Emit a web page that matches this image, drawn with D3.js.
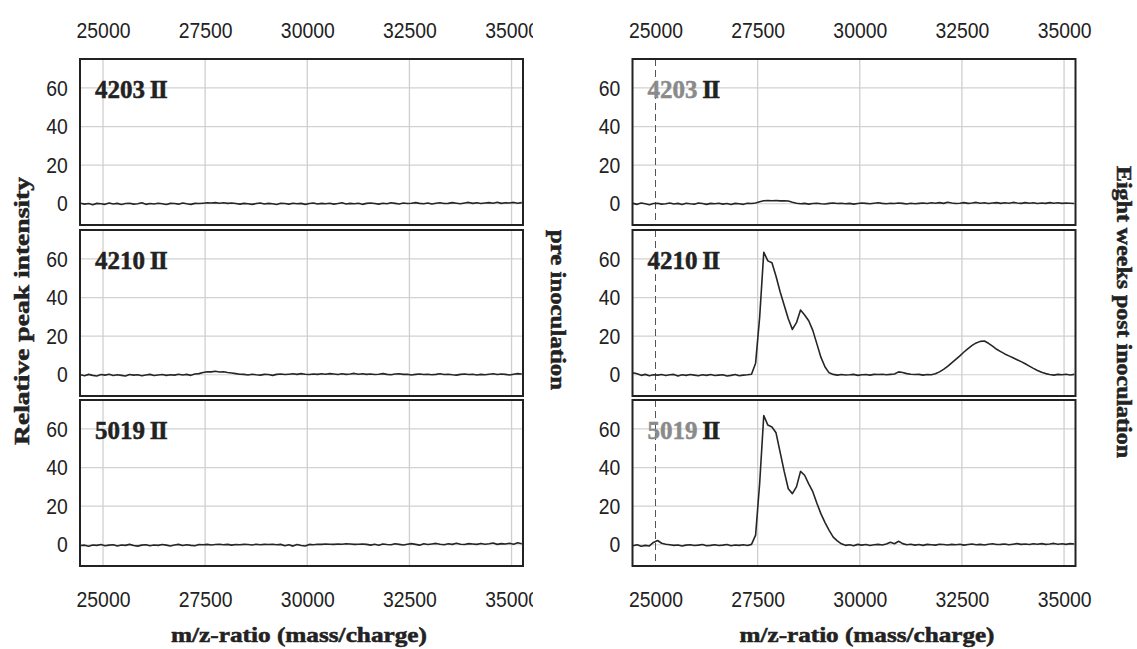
<!DOCTYPE html>
<html><head><meta charset="utf-8">
<script src="https://cdn.jsdelivr.net/npm/d3@7"></script>
<style>body{margin:0;background:#fff}svg{display:block}</style>
</head><body><svg id="c" width="1137" height="649"></svg>
<script>
// ---- data ----
const mz = [24450,24550,24650,24750,24850,24950,25050,25150,25250,25350,
25450,25550,25650,25750,25850,25950,26050,26150,26250,26350,
26450,26550,26650,26750,26850,26950,27050,27150,27250,27350,
27450,27550,27650,27750,27850,27950,28050,28150,28250,28350,
28450,28550,28650,28750,28850,28950,29050,29150,29250,29350,
29450,29550,29650,29750,29850,29950,30050,30150,30250,30350,
30450,30550,30650,30750,30850,30950,31050,31150,31250,31350,
31450,31550,31650,31750,31850,31950,32050,32150,32250,32350,
32450,32550,32650,32750,32850,32950,33050,33150,33250,33350,
33450,33550,33650,33750,33850,33950,34050,34150,34250,34350,
34450,34550,34650,34750,34850,34950,35050,35150,35250];
const xTicks = [25000,27500,30000,32500,35000];
const yTicks = [0,20,40,60];
const sampleIds = ["4203","4210","5019"];
const groupTitles = ["pre inoculation","Eight weeks post inoculation"];
const yTitle = "Relative peak intensity";
const xTitle = "m/z-ratio (mass/charge)";

const pre4203 = [0.3,-0.2,0.1,-0.5,0.2,0.0,-0.3,0.4,-0.1,0.2,
-0.4,0.1,0.3,-0.2,0.0,0.5,-0.3,0.1,-0.1,0.3,
0.0,-0.4,0.2,0.1,-0.2,0.4,0.0,-0.3,0.2,0.1,
0.3,0.5,0.4,0.6,0.3,0.5,0.2,0.4,0.1,-0.2,
0.2,0.0,-0.3,0.1,0.4,-0.1,0.2,0.0,-0.4,0.3,
0.1,-0.2,0.3,0.0,0.2,-0.3,0.1,0.4,-0.1,0.2,
0.0,0.3,-0.2,0.1,0.5,-0.1,0.2,0.0,0.3,-0.3,
0.2,0.4,0.1,-0.2,0.3,0.0,0.5,0.2,-0.1,0.4,
0.1,0.3,0.6,0.2,0.0,0.4,-0.1,0.3,0.5,0.1,
0.2,0.6,0.3,0.0,0.4,0.7,0.2,0.5,0.1,0.4,
0.6,0.3,0.8,0.2,0.5,0.4,0.7,0.3,0.6];
const pre4210 = [0.0,-0.5,0.2,-0.3,-0.6,0.1,-0.2,0.3,-0.4,0.0,
-0.3,-0.6,0.1,-0.2,0.0,-0.5,-0.1,0.2,-0.4,-0.1,
0.1,-0.3,0.0,-0.2,0.3,-0.1,0.2,-0.3,0.4,0.6,
1.2,1.6,1.5,1.8,1.4,1.6,1.2,0.9,0.6,0.3,
0.2,-0.1,0.3,0.0,-0.2,0.2,0.1,-0.3,0.2,0.4,
0.1,0.3,0.5,0.2,0.6,0.3,0.1,0.4,0.2,0.5,
0.3,0.6,0.4,0.1,0.5,0.2,0.4,0.7,0.3,0.5,
0.2,0.4,0.1,0.3,0.6,0.2,0.0,0.4,0.5,0.2,
0.3,-0.1,0.2,0.4,0.1,0.3,0.0,0.2,0.5,0.1,
0.3,0.0,-0.2,0.2,0.4,0.1,0.3,-0.1,0.2,0.0,
0.3,0.5,0.1,0.4,0.2,-0.1,0.3,0.6,0.4];
const pre5019 = [-0.4,-0.2,-0.8,-0.1,-0.3,0.1,-0.5,-0.2,0.0,-0.6,
-0.1,-0.3,0.2,-0.4,-0.7,-0.2,0.0,-0.5,-0.1,-0.3,
0.1,-0.2,-0.6,-0.1,0.2,-0.4,0.0,-0.3,-0.5,0.1,
0.0,0.2,-0.1,0.1,0.3,0.0,0.2,-0.2,0.1,0.0,
0.2,0.1,-0.1,0.3,0.0,0.2,0.1,0.3,0.0,0.2,
-0.5,0.0,-0.7,0.1,-0.4,-0.6,0.2,0.0,0.3,0.2,
0.4,0.3,0.2,0.4,0.3,0.5,0.4,0.2,0.3,0.4,
0.2,-0.2,0.3,-0.3,0.4,0.1,0.0,0.5,0.2,-0.1,
0.3,0.6,0.2,-0.2,0.5,0.1,0.4,0.7,0.3,0.0,
0.5,0.2,0.8,0.3,0.1,0.6,0.4,0.2,0.7,0.3,
0.5,0.9,0.2,0.6,0.4,0.8,0.3,1.0,0.5];
const post4203 = [0.2,-0.3,0.4,0.0,-0.5,0.1,0.3,-0.2,0.0,0.4,
-0.1,0.2,-0.4,0.3,0.0,-0.2,0.4,0.1,-0.3,0.2,
0.0,0.3,-0.2,0.1,-0.4,0.2,0.0,-0.3,0.3,0.1,
0.4,1.0,1.6,1.7,1.6,1.7,1.5,1.6,1.4,0.8,
0.3,0.0,0.2,-0.2,0.1,0.3,0.0,-0.1,0.2,0.4,
0.1,0.3,0.0,0.2,-0.2,0.1,0.4,0.2,0.0,0.3,
0.5,0.2,0.0,0.3,0.1,0.4,0.2,-0.1,0.3,0.0,
0.2,0.4,0.1,0.5,0.3,0.6,0.2,0.8,0.4,0.1,
0.3,0.6,0.2,0.4,0.7,0.3,0.5,0.1,0.4,0.6,
0.2,0.5,0.3,0.7,0.4,0.2,0.6,0.3,0.5,0.1,
0.4,0.2,0.6,0.3,0.5,0.2,0.4,0.3,0.1];
const post4210 = [1.0,0.5,-0.3,0.2,-0.5,0.0,-0.2,0.1,-0.4,0.0,
0.2,-0.6,0.0,-0.3,0.1,-0.2,-0.5,0.0,-0.3,0.1,
-0.4,-0.2,0.0,-0.6,-0.3,0.1,-0.5,-0.2,0.0,0.3,
6,30,63.5,59,58,51,43,36,29,23.5,
27,33.5,31,28,23,16,9,4,1,0.2,
-0.2,0.1,-0.1,0.0,0.2,-0.3,0.0,0.1,-0.2,0.2,
0.1,0.3,0.0,0.2,0.4,1.5,1.2,0.6,0.3,0.1,
0.2,-0.2,0.1,0.0,0.5,1.5,2.8,4.3,6.2,8.0,
9.8,11.8,13.6,15.2,16.5,17.3,17.5,16.3,14.8,13.2,
12.0,10.8,9.8,8.8,7.8,6.8,5.7,4.5,3.3,2.2,
1.3,0.6,0.1,-0.2,0.2,0.0,0.3,-0.1,0.2];
const post5019 = [-0.5,0.0,-0.8,-0.3,-0.6,1.2,2.2,0.8,0.3,0.0,
-0.3,-0.1,-0.6,-0.2,0.0,-0.4,-0.2,0.1,-0.5,-0.3,
0.0,-0.4,-0.2,0.1,-0.5,-0.1,-0.3,0.0,-0.4,0.2,
5,32,67,62,61,58,48,38,29,26.5,
30,38,36,31.5,27.5,21.5,16,11.5,7.5,4,
2,0.5,-0.3,0.0,-0.5,0.2,-0.2,0.1,-0.4,0.0,
0.2,-0.1,0.4,1.3,0.5,1.8,0.6,0.0,0.3,-0.2,
0.1,-0.3,0.2,0.0,-0.2,0.3,0.1,-0.1,0.2,0.0,
0.3,-0.2,0.1,0.4,0.0,0.2,-0.1,0.3,0.5,0.1,
0.2,0.4,0.0,0.3,0.6,0.2,0.4,0.1,0.5,0.3,
0.6,0.2,0.4,0.7,0.3,0.5,0.2,0.6,0.4];

const groups = [
  {series:[pre4203,pre4210,pre5019], idColors:["#222","#222","#222"], left:80, dashed25k:false, clipTicks:true},
  {series:[post4203,post4210,post5019], idColors:["#8a8a8a","#222","#8a8a8a"], left:632.5, dashed25k:true, clipTicks:false}
];

// ---- layout ----
const W = 443, H = 166;
const rowTops = [59, 230, 400];
const x = d3.scaleLinear().domain([24437, 35280]).range([0, W]);
const y = d3.scaleLinear().domain([-11, 75]).range([H, 0]);
const line = d3.line().x((d,i)=>x(mz[i])).y(d=>y(d));

const svg = d3.select("#c");
svg.append("rect").attr("width",1137).attr("height",649).attr("fill","#fff");
const sans = "'Liberation Sans', Arial, sans-serif";
const serif = "'Liberation Serif', 'Times New Roman', serif";

svg.append("clipPath").attr("id","tickclip").append("rect")
  .attr("x",0).attr("y",0).attr("width",533).attr("height",649);

function styleTicks(g){
  g.select(".domain").remove();
  g.selectAll("text").attr("font-family",sans).attr("font-size",22).attr("fill","#222")
   .attr("transform","scale(0.88,1)");
}

groups.forEach((grp,gi)=>{
  const gx = grp.left;
  // top & bottom tick labels
  const tickWrap = svg.append("g");
  if (grp.clipTicks) tickWrap.attr("clip-path","url(#tickclip)");
  [38, 607].forEach(by=>{
    const ax = tickWrap.append("g").attr("transform",`translate(${gx},${by})`)
      .call(d3.axisTop(x).tickValues(xTicks).tickFormat(d3.format("d")).tickSize(0).tickPadding(0));
    styleTicks(ax);
    ax.selectAll("text").attr("y",0).attr("dy",0);
  });

  grp.series.forEach((vals,ri)=>{
    const g = svg.append("g").attr("transform",`translate(${gx},${rowTops[ri]})`);
    // horizontal grid
    g.selectAll(".hg").data(yTicks).join("line")
      .attr("x1",0).attr("x2",W).attr("y1",d=>y(d)).attr("y2",d=>y(d))
      .attr("stroke","#d2d2d2").attr("stroke-width",1.2);
    // vertical grid
    g.selectAll(".vg").data(xTicks).join("line")
      .attr("x1",d=>x(d)).attr("x2",d=>x(d)).attr("y1",0).attr("y2",H)
      .attr("stroke",d=> (grp.dashed25k && d===25000) ? "#555" : "#cfcfcf")
      .attr("stroke-width",d=> (grp.dashed25k && d===25000) ? 1 : 1.3)
      .attr("stroke-dasharray",d=> (grp.dashed25k && d===25000) ? "7,4" : null);
    // y ticks
    const ya = g.append("g").call(d3.axisLeft(y).tickValues(yTicks).tickSize(0).tickPadding(14));
    styleTicks(ya);
    // data
    g.append("path").datum(vals).attr("d",line).attr("fill","none")
      .attr("stroke","#262626").attr("stroke-width",1.6).attr("stroke-linejoin","round");
    // frame
    g.append("rect").attr("x",0).attr("y",0).attr("width",W).attr("height",H)
      .attr("fill","none").attr("stroke","#222").attr("stroke-width",2);
    // sample label
    const t = g.append("text").attr("x",15).attr("y",39)
      .attr("font-family",serif).attr("font-weight","bold").attr("font-size",25)
      .attr("stroke-width",0.5);
    t.append("tspan").text(sampleIds[ri]).attr("fill",grp.idColors[ri]).attr("stroke",grp.idColors[ri]);
    t.append("tspan").text(" II").attr("fill","#222").attr("stroke","#222").attr("letter-spacing",-1.5);
  });
});

// axis titles
function title(txt, tx, ty, rot, len){
  svg.append("text").attr("transform",`translate(${tx},${ty}) rotate(${rot})`)
    .attr("text-anchor","middle").attr("font-family",serif).attr("font-weight","bold")
    .attr("font-size",20).attr("fill","#222").attr("stroke","#222").attr("stroke-width",0.5)
    .attr("textLength",len).attr("lengthAdjust","spacingAndGlyphs").text(txt);
}
title(yTitle, 29, 311, -90, 268);
title(groupTitles[0], 551, 310, 90, 160);
title(groupTitles[1], 1117, 312, 90, 292);
title(xTitle, 299, 642, 0, 256);
title(xTitle, 867, 642, 0, 255);
</script></body></html>
